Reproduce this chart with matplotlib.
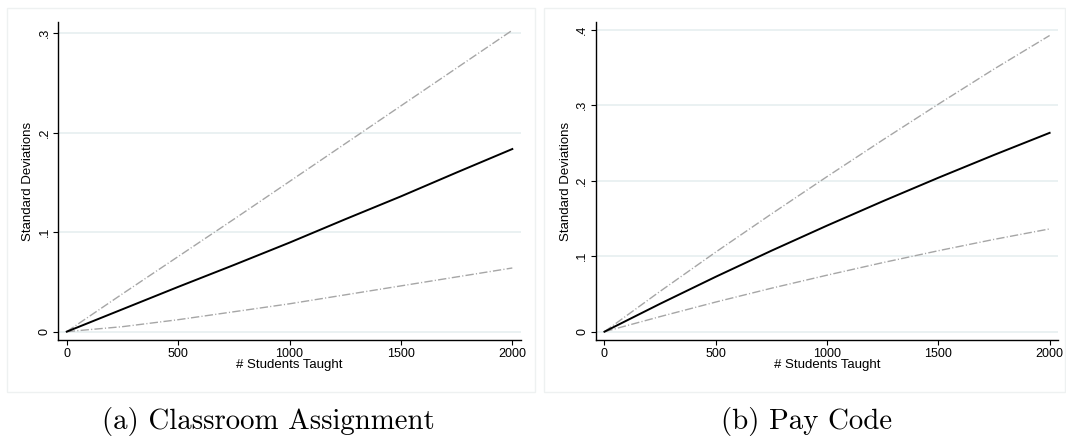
import matplotlib
matplotlib.use("Agg")
import matplotlib.pyplot as plt
from matplotlib.patches import Rectangle

# ---- data ----
students = [0, 250, 500, 750, 1000, 1250, 1500, 1750, 2000]

class_mid = [0, 0.0225, 0.045, 0.067, 0.0895, 0.113, 0.136, 0.160, 0.1836]
class_upper = [0, 0.038, 0.0755, 0.113, 0.151, 0.189, 0.227, 0.265, 0.303]
class_lower = [0, 0.005, 0.012, 0.020, 0.028, 0.037, 0.046, 0.055, 0.064]

pay_mid = [0, 0.037, 0.0728, 0.1073, 0.1406, 0.1728, 0.204, 0.2342, 0.2635]
pay_upper = [0, 0.0535, 0.1055, 0.156, 0.2055, 0.254, 0.3015, 0.348, 0.3925]
pay_lower = [0, 0.020, 0.0393, 0.0576, 0.0749, 0.0915, 0.1073, 0.1223, 0.1362]

x_ticks = [0, 500, 1000, 1500, 2000]
x_ticklabels = ["0", "500", "1000", "1500", "2000"]
class_yticks = [0, 0.1, 0.2, 0.3]
class_yticklabels = ["0", ".1", ".2", ".3"]
pay_yticks = [0, 0.1, 0.2, 0.3, 0.4]
pay_yticklabels = ["0", ".1", ".2", ".3", ".4"]

xlabel = "# Students Taught"
ylabel = "Standard Deviations"
captions = ["(a) Classroom Assignment", "(b) Pay Code"]

W, H = 1066, 440
fig = plt.figure(figsize=(W / 100, H / 100), dpi=100)

sans = ["Liberation Sans", "DejaVu Sans"]
grid_color = "#e8f0f1"
ci_color = "#a6a6a6"
dash = (6, 1.6, 0.8, 1.6)

# panel borders
for (x0, x1) in [(7, 535), (544, 1065)]:
    fig.patches.append(Rectangle((x0 / W, 1 - 392 / H), (x1 - x0) / W, (392 - 8) / H,
                                 transform=fig.transFigure, fill=False,
                                 edgecolor="#eef1f1", linewidth=1.0))

panels = [
    dict(px=(58.3, 521), mid=class_mid, up=class_upper, lo=class_lower,
         yt=class_yticks, ytl=class_yticklabels, ylim=(-0.0084, 0.311), cap_x=268),
    dict(px=(596, 1058.3), mid=pay_mid, up=pay_upper, lo=pay_lower,
         yt=pay_yticks, ytl=pay_yticklabels, ylim=(-0.011, 0.410), cap_x=807),
]

top_px, bot_px = 22.3, 340
for i, p in enumerate(panels):
    l, r = p["px"]
    ax = fig.add_axes([l / W, 1 - bot_px / H, (r - l) / W, (bot_px - top_px) / H])
    ax.set_xlim(-38, 2039)
    ax.set_ylim(*p["ylim"])
    for yv in p["yt"]:
        ax.axhline(yv, color=grid_color, linewidth=1.3, zorder=0)
    ax.plot(students, p["up"], color=ci_color, linewidth=1.0, dashes=dash, zorder=2)
    ax.plot(students, p["lo"], color=ci_color, linewidth=1.0, dashes=dash, zorder=2)
    ax.plot(students, p["mid"], color="black", linewidth=1.4, zorder=3)

    ax.spines["top"].set_visible(False)
    ax.spines["right"].set_visible(False)
    for s in ["left", "bottom"]:
        ax.spines[s].set_linewidth(1.0)
        ax.spines[s].set_color("black")

    ax.set_xticks(x_ticks)
    ax.set_xticklabels(x_ticklabels, fontsize=9, family=sans)
    ax.set_yticks(p["yt"])
    ax.set_yticklabels(p["ytl"], fontsize=9, family=sans, rotation=90, va="center")
    ax.tick_params(axis="both", direction="out", length=3.5, width=0.8, pad=2, color="black")
    ax.set_xlabel(xlabel, fontsize=9.5, family=sans, labelpad=-0.5)
    ax.set_ylabel(ylabel, fontsize=9.5, family=sans, labelpad=3)

    fig.text(p["cap_x"] / W, 1 - 421 / H, captions[i], fontsize=20.8,
             family=["cmr10", "DejaVu Serif"], ha="center", va="center")

fig.savefig("out.png", dpi=100)
